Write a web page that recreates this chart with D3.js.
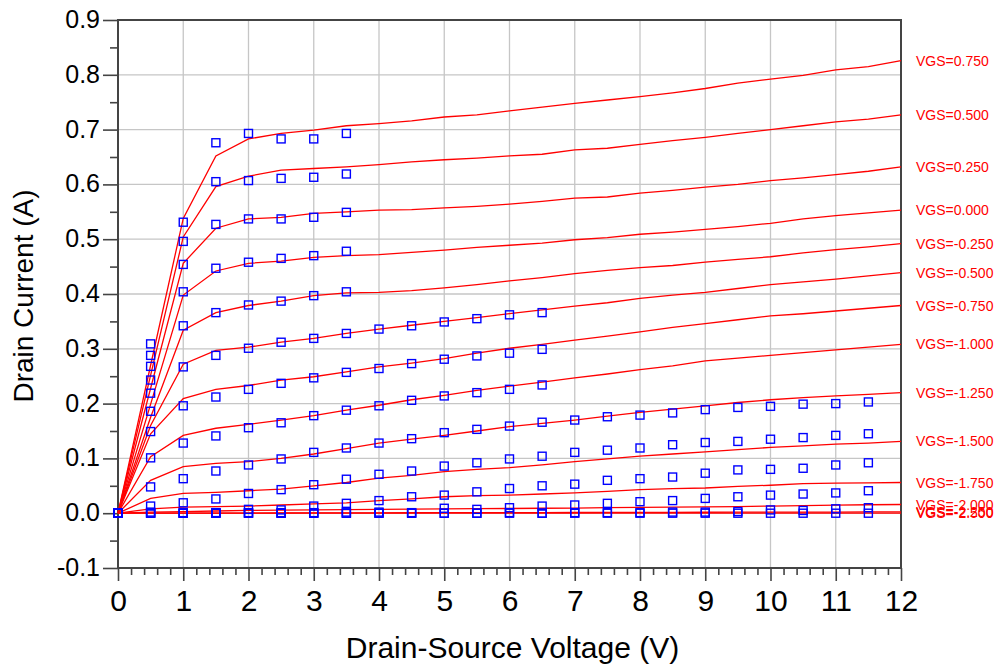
<!DOCTYPE html>
<html><head><meta charset="utf-8">
<script src="https://cdn.jsdelivr.net/npm/d3@7"></script>
<style>body{margin:0;background:#fff}svg{display:block}</style>
</head><body>
<svg id="chart" width="1000" height="669"></svg>
<script>
// ---------- DATA ----------
const vgsValues = [0.75, 0.5, 0.25, 0.0, -0.25, -0.5, -0.75, -1.0, -1.25, -1.5, -1.75, -2.0, -2.25, -2.5];

// simulated sweep (red lines)
const simVDS = [0,0.5,1,1.5,2,2.5,3,3.5,4,4.5,5,5.5,6,6.5,7,7.5,8,8.5,9,9.5,10,10.5,11,11.5,12];
const sim_p0750 = [0,0.270,0.538,0.652,0.683,0.693,0.699,0.707,0.711,0.716,0.723,0.727,0.734,0.741,0.748,0.754,0.760,0.767,0.775,0.785,0.792,0.799,0.809,0.815,0.826];
const sim_p0500 = [0,0.252,0.504,0.596,0.615,0.626,0.629,0.632,0.636,0.641,0.645,0.648,0.652,0.655,0.663,0.666,0.673,0.680,0.686,0.693,0.700,0.707,0.714,0.719,0.727];
const sim_p0250 = [0,0.228,0.456,0.520,0.537,0.540,0.547,0.550,0.553,0.554,0.557,0.560,0.564,0.569,0.575,0.577,0.584,0.589,0.595,0.600,0.607,0.612,0.618,0.624,0.632];
const sim_0000  = [0,0.199,0.398,0.442,0.456,0.460,0.467,0.470,0.472,0.476,0.480,0.485,0.489,0.493,0.499,0.503,0.509,0.513,0.518,0.523,0.529,0.537,0.543,0.548,0.553];
const sim_m0250 = [0,0.175,0.334,0.366,0.379,0.387,0.397,0.402,0.403,0.406,0.411,0.417,0.424,0.430,0.437,0.443,0.448,0.452,0.458,0.463,0.468,0.475,0.481,0.486,0.492];
const sim_m0500 = [0,0.160,0.272,0.297,0.303,0.312,0.319,0.328,0.336,0.343,0.350,0.357,0.364,0.371,0.378,0.384,0.392,0.398,0.403,0.410,0.417,0.422,0.427,0.433,0.439];
const sim_m0750 = [0,0.145,0.209,0.226,0.233,0.243,0.249,0.258,0.267,0.274,0.282,0.292,0.301,0.308,0.316,0.323,0.331,0.339,0.346,0.353,0.360,0.364,0.369,0.374,0.379];
const sim_m1000 = [0,0.103,0.142,0.155,0.162,0.170,0.178,0.188,0.197,0.207,0.215,0.224,0.232,0.239,0.247,0.254,0.262,0.269,0.278,0.283,0.288,0.293,0.298,0.303,0.308];
const sim_m1250 = [0,0.060,0.085,0.091,0.094,0.100,0.108,0.118,0.128,0.135,0.142,0.150,0.158,0.164,0.170,0.177,0.184,0.190,0.196,0.202,0.207,0.211,0.214,0.217,0.220];
const sim_m1500 = [0,0.027,0.036,0.038,0.041,0.044,0.050,0.056,0.064,0.069,0.076,0.080,0.083,0.088,0.094,0.099,0.104,0.108,0.112,0.116,0.120,0.123,0.126,0.128,0.131];
const sim_m1750 = [0,0.008,0.011,0.012,0.013,0.015,0.017,0.019,0.023,0.026,0.030,0.032,0.033,0.035,0.037,0.040,0.043,0.045,0.046,0.049,0.051,0.054,0.055,0.0555,0.056];
const sim_m2000 = [0,0.002,0.003,0.004,0.005,0.0055,0.006,0.0065,0.007,0.0074,0.008,0.0083,0.0086,0.009,0.0094,0.010,0.0105,0.011,0.0115,0.012,0.013,0.014,0.0148,0.0154,0.0159];
const sim_m2250 = [0,0,0.0001,0.0002,0.0003,0.0004,0.0005,0.0006,0.0007,0.0008,0.0009,0.001,0.0011,0.0012,0.0013,0.0014,0.0015,0.0016,0.0017,0.0018,0.0019,0.002,0.0021,0.0023,0.0024];
const sim_m2500 = [0,0,0,0,0,0,0,0,0,0,0,0,0,0,0,0,0,0,0,0,0,0,0,0,0];

// measured data (blue squares)
const measVDS = [0,0.5,1,1.5,2,2.5,3,3.5,4,4.5,5,5.5,6,6.5,7,7.5,8,8.5,9,9.5,10,10.5,11,11.5];
const meas_p0750 = [0,0.309,0.531,0.676,0.693,0.683,0.683,0.693];
const meas_p0500 = [0,0.288,0.496,0.605,0.607,0.611,0.613,0.619];
const meas_p0250 = [0,0.268,0.454,0.527,0.537,0.537,0.540,0.549];
const meas_0000  = [0,0.243,0.404,0.447,0.458,0.465,0.470,0.478];
const meas_m0250 = [0,0.219,0.342,0.366,0.380,0.387,0.397,0.404];
const meas_m0500 = [0,0.186,0.267,0.288,0.301,0.312,0.319,0.328,0.336,0.342,0.349,0.355,0.362,0.366];
const meas_m0750 = [0,0.149,0.196,0.212,0.226,0.237,0.247,0.257,0.264,0.273,0.281,0.287,0.292,0.299];
const meas_m1000 = [0,0.101,0.128,0.141,0.156,0.165,0.178,0.188,0.196,0.206,0.214,0.220,0.226,0.234];
const meas_m1250 = [0,0.048,0.063,0.077,0.088,0.099,0.111,0.119,0.128,0.136,0.147,0.153,0.159,0.166,0.170,0.176,0.179,0.183,0.189,0.193,0.195,0.199,0.200,0.203];
const meas_m1500 = [0,0.013,0.019,0.026,0.036,0.043,0.052,0.062,0.071,0.077,0.086,0.092,0.099,0.104,0.111,0.115,0.119,0.125,0.129,0.131,0.135,0.138,0.142,0.145];
const meas_m1750 = [0,0.002,0.001,0.001,0.007,0.006,0.013,0.018,0.023,0.030,0.033,0.039,0.045,0.050,0.053,0.060,0.063,0.066,0.073,0.079,0.080,0.082,0.088,0.092];
const meas_m2000 = [0,0,0,0.001,0.001,0.001,0.001,0.002,0.002,0.001,0.009,0.007,0.010,0.013,0.015,0.018,0.021,0.023,0.027,0.030,0.033,0.035,0.037,0.041];
const meas_m2250 = [0,0,0,0,0,0,0,0,0,0,0,0,0.001,0,0.001,0.001,0.001,0.002,0.002,0.003,0.006,0.005,0.008,0.010];
const meas_m2500 = [0,0,0,0,0,0,0,0,0,0,0,0,0,0,0,0,0,0,0,0,0,0,0,0];

// axis ticks
const xTickValues = [0,1,2,3,4,5,6,7,8,9,10,11,12];
const yTickValues = [-0.1,0,0.1,0.2,0.3,0.4,0.5,0.6,0.7,0.8,0.9];
const yTickLabels = ["-0.1","0.0","0.1","0.2","0.3","0.4","0.5","0.6","0.7","0.8","0.9"];
const xTitle = "Drain-Source Voltage (V)";
const yTitle = "Drain Current (A)";

// ---------- BUILD ----------
const simSeries = [sim_p0750,sim_p0500,sim_p0250,sim_0000,sim_m0250,sim_m0500,sim_m0750,sim_m1000,sim_m1250,sim_m1500,sim_m1750,sim_m2000,sim_m2250,sim_m2500];
const measSeries = [meas_p0750,meas_p0500,meas_p0250,meas_0000,meas_m0250,meas_m0500,meas_m0750,meas_m1000,meas_m1250,meas_m1500,meas_m1750,meas_m2000,meas_m2250,meas_m2500];

const FONT = "'Liberation Sans', Arial, Helvetica, sans-serif";
const m = {l:118, r:901, t:20, b:568};
const svg = d3.select("#chart");
const x = d3.scaleLinear().domain([0,12]).range([m.l, m.r]);
const y = d3.scaleLinear().domain([-0.1,0.9]).range([m.b, m.t]);

// grid
const grid = svg.append("g").attr("stroke","#c6c6c6").attr("stroke-width",1.3);
grid.selectAll("line.vx").data(xTickValues.slice(1,-1)).enter().append("line")
  .attr("x1",d=>x(d)).attr("x2",d=>x(d)).attr("y1",m.t).attr("y2",m.b);
grid.selectAll("line.hy").data(yTickValues.slice(1,-1)).enter().append("line")
  .attr("x1",m.l).attr("x2",m.r).attr("y1",d=>y(d)).attr("y2",d=>y(d));

// axes
const axisColor = "#444";
function styleAxis(g){
  g.select(".domain").remove();
  g.selectAll(".tick line").attr("stroke",axisColor).attr("stroke-width",1.6);
  g.selectAll("text").attr("fill","#000").style("font-family",FONT);
}
const xMinor = d3.range(0,12.001,0.2).filter(v=>Math.abs(v-Math.round(v))>1e-6);
const yMinor = d3.range(-0.05,0.9,0.1);
svg.append("g").attr("transform",`translate(0,${m.b})`)
  .call(d3.axisBottom(x).tickValues(xMinor).tickSize(7).tickFormat("")).call(styleAxis);
svg.append("g").attr("transform",`translate(${m.l},0)`)
  .call(d3.axisLeft(y).tickValues(yMinor).tickSize(8).tickFormat("")).call(styleAxis);
const gx = svg.append("g").attr("transform",`translate(0,${m.b})`)
  .call(d3.axisBottom(x).tickValues(xTickValues).tickSize(13).tickPadding(9).tickFormat(d3.format("d"))).call(styleAxis);
gx.selectAll("text").style("font-size","30px").attr("dy","0.71em");
const gy = svg.append("g").attr("transform",`translate(${m.l},0)`)
  .call(d3.axisLeft(y).tickValues(yTickValues).tickSize(15).tickPadding(3).tickFormat((d,i)=>yTickLabels[i])).call(styleAxis);
gy.selectAll("text").style("font-size","25px").attr("dy","0.3em");

// frame
svg.append("rect").attr("x",m.l).attr("y",m.t).attr("width",m.r-m.l).attr("height",m.b-m.t)
  .attr("fill","none").attr("stroke",axisColor).attr("stroke-width",2);

// simulated lines
const line = d3.line().x((d,i)=>x(simVDS[i])).y(d=>y(d));
svg.append("g").selectAll("path").data(simSeries).enter().append("path")
  .attr("d",line).attr("fill","none").attr("stroke","#ff0000").attr("stroke-width",1.3);

// measured squares
const sq = 8;
const gm = svg.append("g");
measSeries.forEach(s=>{
  gm.selectAll(null).data(s).enter().append("rect")
    .attr("x",(d,i)=>x(measVDS[i])-sq/2).attr("y",d=>y(d)-sq/2)
    .attr("width",sq).attr("height",sq)
    .attr("fill","none").attr("stroke","#0000ff").attr("stroke-width",1.4);
});

// right labels
svg.append("g").selectAll("text").data(vgsValues).enter().append("text")
  .attr("x",916).attr("y",(d,i)=>y(simSeries[i][simSeries[i].length-1]))
  .attr("dy","0.36em").attr("fill","#ff0000")
  .style("font-family",FONT).style("font-size","14px")
  .text(d=>"VGS="+(d<0?"-":"")+Math.abs(d).toFixed(3));

// titles
svg.append("text").attr("x",(m.l+m.r)/2+3).attr("y",658).attr("text-anchor","middle")
  .style("font-family",FONT).style("font-size","30px").text(xTitle);
svg.append("text").attr("transform",`translate(33,${(m.t+m.b)/2+2}) rotate(-90)`).attr("text-anchor","middle")
  .style("font-family",FONT).style("font-size","28px").text(yTitle);
</script>
</body></html>
